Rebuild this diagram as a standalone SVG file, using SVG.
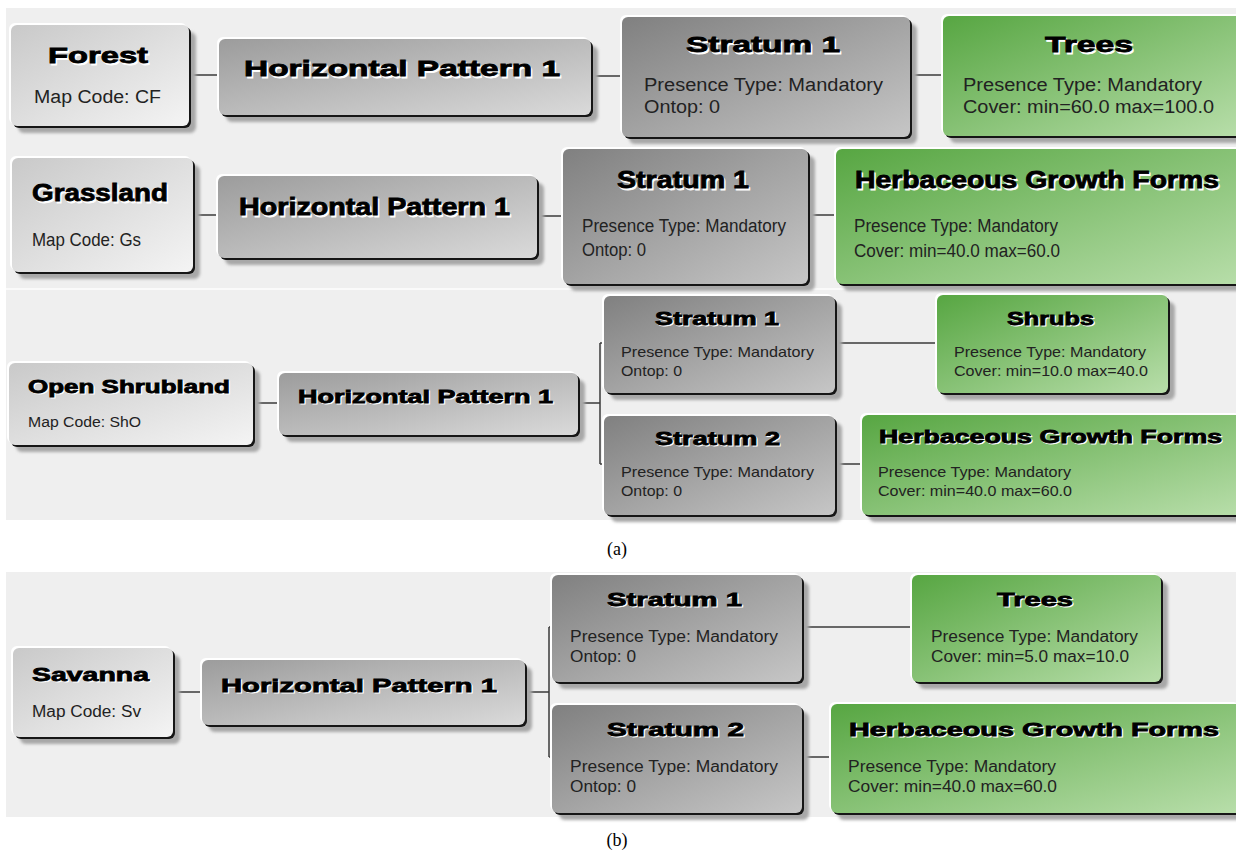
<svg xmlns="http://www.w3.org/2000/svg" xmlns:xlink="http://www.w3.org/1999/xlink" width="1236" height="850" viewBox="0 0 1236 850">
<defs>
<linearGradient id="gLight" x1="0" y1="0" x2="1" y2="1"><stop offset="0" stop-color="#c9c9c9"/><stop offset="1" stop-color="#f4f4f4"/></linearGradient>
<linearGradient id="gMid" x1="0" y1="0" x2="1" y2="1"><stop offset="0" stop-color="#9c9c9c"/><stop offset="1" stop-color="#dadada"/></linearGradient>
<linearGradient id="gDark" x1="0" y1="0" x2="1" y2="1"><stop offset="0" stop-color="#808080"/><stop offset="1" stop-color="#c6c6c6"/></linearGradient>
<linearGradient id="gGreen" x1="0" y1="0" x2="1" y2="1"><stop offset="0" stop-color="#57a642"/><stop offset="1" stop-color="#b8deaa"/></linearGradient>
<filter id="blur" x="-5%" y="-5%" width="110%" height="110%"><feGaussianBlur stdDeviation="1.5"/></filter>
</defs>
<style>
.bg{fill:#efefef}
.sep{stroke:#fafafa;stroke-width:2}
.conn line{stroke:#3a3a3a;stroke-width:1.5;fill:none}
.sh{fill:#a8a8a8;filter:url(#blur)}
.hl{fill:#ffffff}
.ed{fill:#161616}
.light{fill:url(#gLight)}
.mid{fill:url(#gMid)}
.dark{fill:url(#gDark)}
.green{fill:url(#gGreen)}
.t{font-family:"Liberation Sans",Arial,sans-serif;font-weight:bold;fill:#000;stroke:#000;stroke-width:0.8}
.tw{font-family:"Liberation Sans",Arial,sans-serif;font-weight:bold;fill:#fff;stroke:#fff;stroke-width:0.8}
.b{font-family:"Liberation Sans",Arial,sans-serif;fill:#222}
.cap{font-family:"Liberation Serif","Times New Roman",serif;font-size:18px;fill:#000}
</style>
<rect width="1236" height="850" fill="#ffffff"/>
<g id="backgrounds">
<rect class="bg" x="6" y="8" width="1230" height="512"/>
<line class="sep" x1="6" y1="289" x2="1236" y2="289"/>
<rect class="bg" x="6" y="572" width="1230" height="245"/>
</g>
<g class="conn" id="connectors">
<line x1="189" y1="75" x2="219" y2="75"/>
<line x1="591" y1="76" x2="622" y2="76"/>
<line x1="910" y1="75" x2="943" y2="75"/>
<line x1="193" y1="215" x2="218" y2="215"/>
<line x1="537" y1="216" x2="563" y2="216"/>
<line x1="808" y1="215" x2="836" y2="215"/>
<line x1="253" y1="403" x2="279" y2="403"/>
<line x1="578" y1="403" x2="600" y2="403"/>
<line x1="600" y1="343" x2="600" y2="464"/>
<line x1="600" y1="343" x2="604" y2="343"/>
<line x1="600" y1="464" x2="604" y2="464"/>
<line x1="835" y1="343" x2="937" y2="343"/>
<line x1="835" y1="464" x2="862" y2="464"/>
<line x1="173" y1="692" x2="202" y2="692"/>
<line x1="525" y1="692" x2="549" y2="692"/>
<line x1="549" y1="627" x2="549" y2="757"/>
<line x1="549" y1="627" x2="552" y2="627"/>
<line x1="549" y1="757" x2="552" y2="757"/>
<line x1="802" y1="627" x2="912" y2="627"/>
<line x1="802" y1="757" x2="831" y2="757"/>
</g>

<g id="forest">
<rect class="sh" x="18" y="32" width="178" height="101" rx="6"/>
<rect class="hl" x="9" y="23" width="178" height="101" rx="6"/>
<rect class="ed" x="13" y="27" width="178" height="101" rx="6"/>
<rect class="light" x="11" y="25" width="178" height="101" rx="6"/>
<text class="tw" x="49.5" y="64.5" font-size="22" textLength="100" lengthAdjust="spacingAndGlyphs">Forest</text>
<text class="t" x="48" y="63" font-size="22" textLength="100" lengthAdjust="spacingAndGlyphs">Forest</text>
<text class="b" x="34" y="103" font-size="18" textLength="127" lengthAdjust="spacingAndGlyphs">Map Code: CF</text>
</g>
<g id="hp1-a1">
<rect class="sh" x="226" y="46" width="372" height="76" rx="6"/>
<rect class="hl" x="217" y="37" width="372" height="76" rx="6"/>
<rect class="ed" x="221" y="41" width="372" height="76" rx="6"/>
<rect class="mid" x="219" y="39" width="372" height="76" rx="6"/>
<text class="tw" x="245.5" y="77.5" font-size="22" textLength="316" lengthAdjust="spacingAndGlyphs">Horizontal Pattern 1</text>
<text class="t" x="244" y="76" font-size="22" textLength="316" lengthAdjust="spacingAndGlyphs">Horizontal Pattern 1</text>
</g>
<g id="stratum-a1">
<rect class="sh" x="629" y="24" width="288" height="120" rx="6"/>
<rect class="hl" x="620" y="15" width="288" height="120" rx="6"/>
<rect class="ed" x="624" y="19" width="288" height="120" rx="6"/>
<rect class="dark" x="622" y="17" width="288" height="120" rx="6"/>
<text class="tw" x="687.5" y="53.5" font-size="22" textLength="154" lengthAdjust="spacingAndGlyphs">Stratum 1</text>
<text class="t" x="686" y="52" font-size="22" textLength="154" lengthAdjust="spacingAndGlyphs">Stratum 1</text>
<text class="b" x="644" y="91" font-size="18" textLength="239" lengthAdjust="spacingAndGlyphs">Presence Type: Mandatory</text>
<text class="b" x="644" y="113" font-size="18" textLength="76" lengthAdjust="spacingAndGlyphs">Ontop: 0</text>
</g>
<g id="trees-a1">
<rect class="sh" x="950" y="23" width="300" height="120" rx="6"/>
<rect class="hl" x="941" y="14" width="300" height="120" rx="6"/>
<rect class="ed" x="945" y="18" width="300" height="120" rx="6"/>
<rect class="green" x="943" y="16" width="300" height="120" rx="6"/>
<text class="tw" x="1046.5" y="53.5" font-size="22" textLength="88" lengthAdjust="spacingAndGlyphs">Trees</text>
<text class="t" x="1045" y="52" font-size="22" textLength="88" lengthAdjust="spacingAndGlyphs">Trees</text>
<text class="b" x="963" y="91" font-size="18" textLength="239" lengthAdjust="spacingAndGlyphs">Presence Type: Mandatory</text>
<text class="b" x="963" y="113" font-size="18" textLength="251" lengthAdjust="spacingAndGlyphs">Cover: min=60.0 max=100.0</text>
</g>

<g id="grassland">
<rect class="sh" x="19" y="165" width="181" height="114" rx="6"/>
<rect class="hl" x="10" y="156" width="181" height="114" rx="6"/>
<rect class="ed" x="14" y="160" width="181" height="114" rx="6"/>
<rect class="light" x="12" y="158" width="181" height="114" rx="6"/>
<text class="tw" x="33.5" y="202.5" font-size="24" textLength="136" lengthAdjust="spacingAndGlyphs">Grassland</text>
<text class="t" x="32" y="201" font-size="24" textLength="136" lengthAdjust="spacingAndGlyphs">Grassland</text>
<text class="b" x="32" y="246" font-size="19" textLength="109" lengthAdjust="spacingAndGlyphs">Map Code: Gs</text>
</g>
<g id="hp1-a2">
<rect class="sh" x="225" y="183" width="319" height="82" rx="6"/>
<rect class="hl" x="216" y="174" width="319" height="82" rx="6"/>
<rect class="ed" x="220" y="178" width="319" height="82" rx="6"/>
<rect class="mid" x="218" y="176" width="319" height="82" rx="6"/>
<text class="tw" x="240.5" y="216.5" font-size="23" textLength="271" lengthAdjust="spacingAndGlyphs">Horizontal Pattern 1</text>
<text class="t" x="239" y="215" font-size="23" textLength="271" lengthAdjust="spacingAndGlyphs">Horizontal Pattern 1</text>
</g>
<g id="stratum-a2">
<rect class="sh" x="570" y="156" width="245" height="135" rx="6"/>
<rect class="hl" x="561" y="147" width="245" height="135" rx="6"/>
<rect class="ed" x="565" y="151" width="245" height="135" rx="6"/>
<rect class="dark" x="563" y="149" width="245" height="135" rx="6"/>
<text class="tw" x="618.5" y="189.5" font-size="23" textLength="132" lengthAdjust="spacingAndGlyphs">Stratum 1</text>
<text class="t" x="617" y="188" font-size="23" textLength="132" lengthAdjust="spacingAndGlyphs">Stratum 1</text>
<text class="b" x="582" y="232" font-size="18" textLength="204" lengthAdjust="spacingAndGlyphs">Presence Type: Mandatory</text>
<text class="b" x="582" y="256" font-size="18" textLength="64" lengthAdjust="spacingAndGlyphs">Ontop: 0</text>
</g>
<g id="hgf-a2">
<rect class="sh" x="843" y="156" width="410" height="135" rx="6"/>
<rect class="hl" x="834" y="147" width="410" height="135" rx="6"/>
<rect class="ed" x="838" y="151" width="410" height="135" rx="6"/>
<rect class="green" x="836" y="149" width="410" height="135" rx="6"/>
<text class="tw" x="856.5" y="189.5" font-size="23" textLength="364" lengthAdjust="spacingAndGlyphs">Herbaceous Growth Forms</text>
<text class="t" x="855" y="188" font-size="23" textLength="364" lengthAdjust="spacingAndGlyphs">Herbaceous Growth Forms</text>
<text class="b" x="854" y="232" font-size="18" textLength="204" lengthAdjust="spacingAndGlyphs">Presence Type: Mandatory</text>
<text class="b" x="854" y="257" font-size="18" textLength="206" lengthAdjust="spacingAndGlyphs">Cover: min=40.0 max=60.0</text>
</g>

<g id="open-shrubland">
<rect class="sh" x="16" y="370" width="244" height="82" rx="6"/>
<rect class="hl" x="7" y="361" width="244" height="82" rx="6"/>
<rect class="ed" x="11" y="365" width="244" height="82" rx="6"/>
<rect class="light" x="9" y="363" width="244" height="82" rx="6"/>
<text class="tw" x="29.2" y="394.2" font-size="18" textLength="202" lengthAdjust="spacingAndGlyphs">Open Shrubland</text>
<text class="t" x="28" y="393" font-size="18" textLength="202" lengthAdjust="spacingAndGlyphs">Open Shrubland</text>
<text class="b" x="28" y="427" font-size="14" textLength="113" lengthAdjust="spacingAndGlyphs">Map Code: ShO</text>
</g>
<g id="hp1-a3">
<rect class="sh" x="286" y="380" width="299" height="62" rx="6"/>
<rect class="hl" x="277" y="371" width="299" height="62" rx="6"/>
<rect class="ed" x="281" y="375" width="299" height="62" rx="6"/>
<rect class="mid" x="279" y="373" width="299" height="62" rx="6"/>
<text class="tw" x="299.2" y="404.2" font-size="18" textLength="255" lengthAdjust="spacingAndGlyphs">Horizontal Pattern 1</text>
<text class="t" x="298" y="403" font-size="18" textLength="255" lengthAdjust="spacingAndGlyphs">Horizontal Pattern 1</text>
</g>
<g id="stratum1-a3">
<rect class="sh" x="611" y="303" width="231" height="97" rx="6"/>
<rect class="hl" x="602" y="294" width="231" height="97" rx="6"/>
<rect class="ed" x="606" y="298" width="231" height="97" rx="6"/>
<rect class="dark" x="604" y="296" width="231" height="97" rx="6"/>
<text class="tw" x="656.2" y="326.2" font-size="18" textLength="124" lengthAdjust="spacingAndGlyphs">Stratum 1</text>
<text class="t" x="655" y="325" font-size="18" textLength="124" lengthAdjust="spacingAndGlyphs">Stratum 1</text>
<text class="b" x="621" y="357" font-size="14.5" textLength="193" lengthAdjust="spacingAndGlyphs">Presence Type: Mandatory</text>
<text class="b" x="621" y="376" font-size="14.5" textLength="61" lengthAdjust="spacingAndGlyphs">Ontop: 0</text>
</g>
<g id="shrubs">
<rect class="sh" x="944" y="302" width="231" height="98" rx="6"/>
<rect class="hl" x="935" y="293" width="231" height="98" rx="6"/>
<rect class="ed" x="939" y="297" width="231" height="98" rx="6"/>
<rect class="green" x="937" y="295" width="231" height="98" rx="6"/>
<text class="tw" x="1008.2" y="326.2" font-size="18" textLength="87" lengthAdjust="spacingAndGlyphs">Shrubs</text>
<text class="t" x="1007" y="325" font-size="18" textLength="87" lengthAdjust="spacingAndGlyphs">Shrubs</text>
<text class="b" x="954" y="357" font-size="14.5" textLength="192" lengthAdjust="spacingAndGlyphs">Presence Type: Mandatory</text>
<text class="b" x="954" y="376" font-size="14.5" textLength="194" lengthAdjust="spacingAndGlyphs">Cover: min=10.0 max=40.0</text>
</g>
<g id="stratum2-a3">
<rect class="sh" x="611" y="423" width="231" height="99" rx="6"/>
<rect class="hl" x="602" y="414" width="231" height="99" rx="6"/>
<rect class="ed" x="606" y="418" width="231" height="99" rx="6"/>
<rect class="dark" x="604" y="416" width="231" height="99" rx="6"/>
<text class="tw" x="656.2" y="446.2" font-size="18" textLength="125" lengthAdjust="spacingAndGlyphs">Stratum 2</text>
<text class="t" x="655" y="445" font-size="18" textLength="125" lengthAdjust="spacingAndGlyphs">Stratum 2</text>
<text class="b" x="621" y="477" font-size="14.5" textLength="193" lengthAdjust="spacingAndGlyphs">Presence Type: Mandatory</text>
<text class="b" x="621" y="496" font-size="14.5" textLength="61" lengthAdjust="spacingAndGlyphs">Ontop: 0</text>
</g>
<g id="hgf-a3">
<rect class="sh" x="869" y="422" width="380" height="100" rx="6"/>
<rect class="hl" x="860" y="413" width="380" height="100" rx="6"/>
<rect class="ed" x="864" y="417" width="380" height="100" rx="6"/>
<rect class="green" x="862" y="415" width="380" height="100" rx="6"/>
<text class="tw" x="880.2" y="444.2" font-size="18" textLength="343" lengthAdjust="spacingAndGlyphs">Herbaceous Growth Forms</text>
<text class="t" x="879" y="443" font-size="18" textLength="343" lengthAdjust="spacingAndGlyphs">Herbaceous Growth Forms</text>
<text class="b" x="878" y="477" font-size="14.5" textLength="193" lengthAdjust="spacingAndGlyphs">Presence Type: Mandatory</text>
<text class="b" x="878" y="496" font-size="14.5" textLength="194" lengthAdjust="spacingAndGlyphs">Cover: min=40.0 max=60.0</text>
</g>

<text class="cap" x="617" y="555" text-anchor="middle">(a)</text>

<g id="savanna">
<rect class="sh" x="20" y="655" width="160" height="89" rx="6"/>
<rect class="hl" x="11" y="646" width="160" height="89" rx="6"/>
<rect class="ed" x="15" y="650" width="160" height="89" rx="6"/>
<rect class="light" x="13" y="648" width="160" height="89" rx="6"/>
<text class="tw" x="33.3" y="682.3" font-size="19" textLength="117" lengthAdjust="spacingAndGlyphs">Savanna</text>
<text class="t" x="32" y="681" font-size="19" textLength="117" lengthAdjust="spacingAndGlyphs">Savanna</text>
<text class="b" x="32" y="717" font-size="16" textLength="109" lengthAdjust="spacingAndGlyphs">Map Code: Sv</text>
</g>
<g id="hp1-b">
<rect class="sh" x="209" y="667" width="323" height="65" rx="6"/>
<rect class="hl" x="200" y="658" width="323" height="65" rx="6"/>
<rect class="ed" x="204" y="662" width="323" height="65" rx="6"/>
<rect class="mid" x="202" y="660" width="323" height="65" rx="6"/>
<text class="tw" x="222.3" y="693.3" font-size="19" textLength="276" lengthAdjust="spacingAndGlyphs">Horizontal Pattern 1</text>
<text class="t" x="221" y="692" font-size="19" textLength="276" lengthAdjust="spacingAndGlyphs">Horizontal Pattern 1</text>
</g>
<g id="stratum1-b">
<rect class="sh" x="559" y="582" width="250" height="107" rx="6"/>
<rect class="hl" x="550" y="573" width="250" height="107" rx="6"/>
<rect class="ed" x="554" y="577" width="250" height="107" rx="6"/>
<rect class="dark" x="552" y="575" width="250" height="107" rx="6"/>
<text class="tw" x="608.3" y="607.3" font-size="19" textLength="135" lengthAdjust="spacingAndGlyphs">Stratum 1</text>
<text class="t" x="607" y="606" font-size="19" textLength="135" lengthAdjust="spacingAndGlyphs">Stratum 1</text>
<text class="b" x="570" y="642" font-size="16" textLength="208" lengthAdjust="spacingAndGlyphs">Presence Type: Mandatory</text>
<text class="b" x="570" y="662" font-size="16" textLength="66" lengthAdjust="spacingAndGlyphs">Ontop: 0</text>
</g>
<g id="trees-b">
<rect class="sh" x="919" y="582" width="249" height="107" rx="6"/>
<rect class="hl" x="910" y="573" width="249" height="107" rx="6"/>
<rect class="ed" x="914" y="577" width="249" height="107" rx="6"/>
<rect class="green" x="912" y="575" width="249" height="107" rx="6"/>
<text class="tw" x="998.3" y="607.3" font-size="19" textLength="76" lengthAdjust="spacingAndGlyphs">Trees</text>
<text class="t" x="997" y="606" font-size="19" textLength="76" lengthAdjust="spacingAndGlyphs">Trees</text>
<text class="b" x="931" y="642" font-size="16" textLength="207" lengthAdjust="spacingAndGlyphs">Presence Type: Mandatory</text>
<text class="b" x="931" y="662" font-size="16" textLength="198" lengthAdjust="spacingAndGlyphs">Cover: min=5.0 max=10.0</text>
</g>
<g id="stratum2-b">
<rect class="sh" x="559" y="712" width="250" height="108" rx="6"/>
<rect class="hl" x="550" y="703" width="250" height="108" rx="6"/>
<rect class="ed" x="554" y="707" width="250" height="108" rx="6"/>
<rect class="dark" x="552" y="705" width="250" height="108" rx="6"/>
<text class="tw" x="608.3" y="737.3" font-size="19" textLength="137" lengthAdjust="spacingAndGlyphs">Stratum 2</text>
<text class="t" x="607" y="736" font-size="19" textLength="137" lengthAdjust="spacingAndGlyphs">Stratum 2</text>
<text class="b" x="570" y="772" font-size="16" textLength="208" lengthAdjust="spacingAndGlyphs">Presence Type: Mandatory</text>
<text class="b" x="570" y="792" font-size="16" textLength="66" lengthAdjust="spacingAndGlyphs">Ontop: 0</text>
</g>
<g id="hgf-b">
<rect class="sh" x="838" y="711" width="410" height="109" rx="6"/>
<rect class="hl" x="829" y="702" width="410" height="109" rx="6"/>
<rect class="ed" x="833" y="706" width="410" height="109" rx="6"/>
<rect class="green" x="831" y="704" width="410" height="109" rx="6"/>
<text class="tw" x="850.3" y="737.3" font-size="19" textLength="370" lengthAdjust="spacingAndGlyphs">Herbaceous Growth Forms</text>
<text class="t" x="849" y="736" font-size="19" textLength="370" lengthAdjust="spacingAndGlyphs">Herbaceous Growth Forms</text>
<text class="b" x="848" y="772" font-size="16" textLength="208" lengthAdjust="spacingAndGlyphs">Presence Type: Mandatory</text>
<text class="b" x="848" y="792" font-size="16" textLength="209" lengthAdjust="spacingAndGlyphs">Cover: min=40.0 max=60.0</text>
</g>

<text class="cap" x="617" y="846" text-anchor="middle">(b)</text>
</svg>
